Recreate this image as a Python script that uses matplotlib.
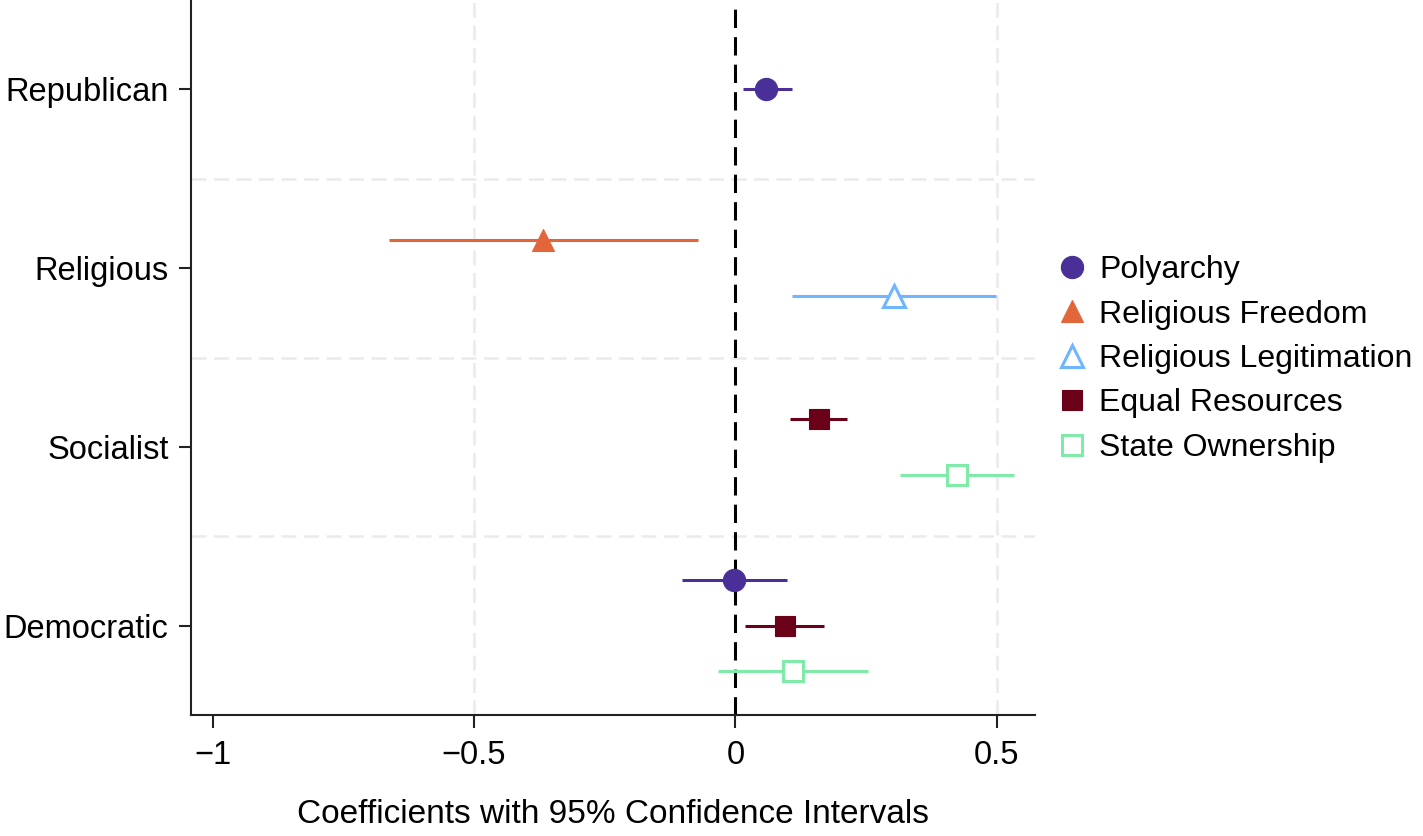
import numpy as np
import matplotlib
matplotlib.use("Agg")
import matplotlib.pyplot as plt

plt.rcParams['font.family'] = ['Liberation Sans', 'DejaVu Sans']

# categorias (de arriba a abajo)
categories = ["Republican", "Religious", "Socialist", "Democratic"]

# series: categoria, coeficiente, limite inferior, limite superior
polyarchy_cat = ["Republican", "Democratic"]
polyarchy_coef = [0.059, -0.002]
polyarchy_lo = [0.015, -0.103]
polyarchy_hi = [0.109, 0.099]

freedom_cat = ["Religious"]
freedom_coef = [-0.369]
freedom_lo = [-0.662]
freedom_hi = [-0.071]

legit_cat = ["Religious"]
legit_coef = [0.304]
legit_lo = [0.109]
legit_hi = [0.499]

equal_cat = ["Socialist", "Democratic"]
equal_coef = [0.159, 0.094]
equal_lo = [0.105, 0.019]
equal_hi = [0.214, 0.170]

state_cat = ["Socialist", "Democratic"]
state_coef = [0.423, 0.111]
state_lo = [0.315, -0.033]
state_hi = [0.532, 0.254]

series = [
    ("Polyarchy", polyarchy_cat, polyarchy_coef, polyarchy_lo, polyarchy_hi, "#4a2f99", "o", True, 16),
    ("Religious Freedom", freedom_cat, freedom_coef, freedom_lo, freedom_hi, "#e2663a", "^", True, 16),
    ("Religious Legitimation", legit_cat, legit_coef, legit_lo, legit_hi, "#6fb5ff", "^", False, 16),
    ("Equal Resources", equal_cat, equal_coef, equal_lo, equal_hi, "#6b0019", "s", True, 15),
    ("State Ownership", state_cat, state_coef, state_lo, state_hi, "#80eaa8", "s", False, 14),
]

# posicion vertical de cada categoria
cat_y = {c: len(categories) - i for i, c in enumerate(categories)}

# desplazamiento dentro de cada grupo segun cuantas series hay
offsets = {1: [0.0], 2: [0.155, -0.155], 3: [0.256, 0.0, -0.256]}
members = {c: [s[0] for s in series if c in s[1]] for c in categories}

fig = plt.figure(figsize=(14.23, 8.36), dpi=100)
ax = fig.add_axes([0.134, 0.1447, 0.593, 0.8553])

for name, cats, coef, lo, hi, color, marker, filled, ms in series:
    ys = []
    for c in cats:
        idx = members[c].index(name)
        ys.append(cat_y[c] + offsets[len(members[c])][idx])
    coef = np.array(coef)
    xerr = [coef - np.array(lo), np.array(hi) - coef]
    ax.errorbar(coef, ys, xerr=xerr, fmt=marker, color=color, ecolor=color,
                elinewidth=2.2, capsize=0, markersize=ms,
                markerfacecolor=color if filled else "white",
                markeredgecolor=color, markeredgewidth=2.2 if not filled else 0.8,
                label=name, zorder=3)

ax.axvline(0, color="black", linestyle=(0, (6, 3)), linewidth=2.2, zorder=2)

ax.set_xlim(-1.042, 0.572)
ax.set_ylim(0.5, 4.5)
ax.set_xticks([-1, -0.5, 0, 0.5])
ax.set_xticklabels(["\u22121", "\u22120.5", "0", "0.5"])
ax.set_yticks([cat_y[c] for c in categories])
ax.set_yticklabels(categories)

# lineas de la cuadricula
for gx in [-0.5, 0.5]:
    ax.axvline(gx, color="#ebebeb", linestyle=(0, (6, 3)), linewidth=1.8, zorder=1)
for gy in [1.5, 2.5, 3.5]:
    ax.axhline(gy, color="#ebebeb", linestyle=(0, (6, 3)), linewidth=1.8, zorder=1)

for s in ["top", "right"]:
    ax.spines[s].set_visible(False)
for s in ["left", "bottom"]:
    ax.spines[s].set_linewidth(1.5)
    ax.spines[s].set_color("#222222")

ax.tick_params(axis="both", labelsize=23.5, length=9, width=1.5, colors="#222222", labelcolor="black")
ax.tick_params(axis="x", pad=9)
ax.tick_params(axis="y", pad=7)
ax.set_xlabel("Coefficients with 95% Confidence Intervals", fontsize=24, labelpad=20)

handles, labels = ax.get_legend_handles_labels()
handles = [h[0] for h in handles]
fig.legend(handles, labels, loc="center left", bbox_to_anchor=(0.733, 0.5706),
           frameon=False, fontsize=23, handlelength=1.0, handletextpad=0.35,
           labelspacing=0.45, borderaxespad=0, markerscale=1.0)

fig.savefig("out.png", dpi=100)
